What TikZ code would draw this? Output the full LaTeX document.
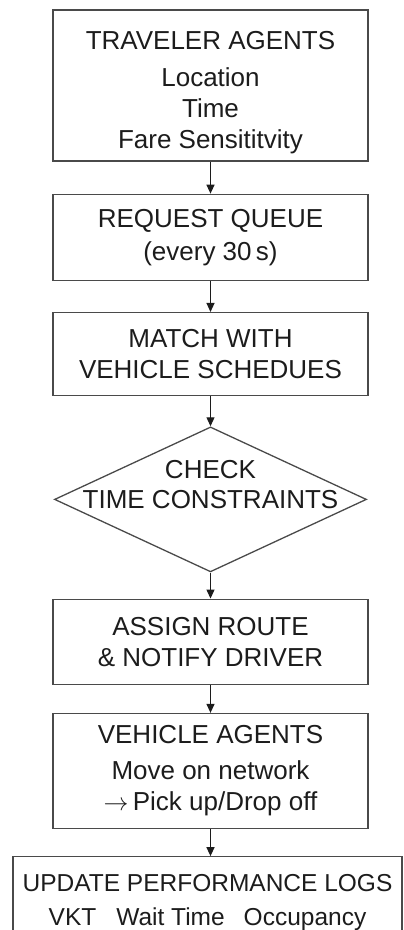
\documentclass[tikz,border=0pt]{standalone}
\usepackage{fontspec}
\setmainfont{Liberation Sans}
\usepackage{tikz}
\usetikzlibrary{positioning,shapes.geometric,arrows.meta}
\definecolor{ink}{HTML}{1C1C1C}
\definecolor{rule}{HTML}{4A4A4A}
\tikzset{
  stage/.style={draw=rule,line width=1.3pt,minimum width=315pt,inner sep=0pt,
    align=center,text=ink,font=\fontsize{26}{31}\selectfont},
  decision/.style={diamond,draw=rule,line width=1.3pt,minimum width=312pt,
    minimum height=145pt,inner sep=0pt},
  flow/.style={draw=ink,line width=1.2pt,-{Triangle[width=8pt,length=9pt]}}
}

\begin{document}
\begin{tikzpicture}
\useasboundingbox (0,0) rectangle (404pt,-930pt);
% stages from top to bottom
\node[stage,minimum height=151pt] (traveler) at (210.5pt,-85.5pt)
  {\rule{0pt}{32pt}TRAVELER AGENTS\\[6pt]Location\\Time\\Fare Sensititvity};
\node[stage,minimum height=86pt,below=32pt of traveler] (queue)
  {REQUEST QUEUE\\[2pt](every 30\,s)};
\node[stage,minimum height=83pt,below=31pt of queue] (match)
  {MATCH WITH\\VEHICLE SCHEDUES};
\node[decision,below=30pt of match] (check) {};
\node[text=ink,align=center,font=\fontsize{26}{30}\selectfont] (checktext)
  at ([yshift=15pt]check.center) {CHECK\\TIME CONSTRAINTS};
\node[stage,minimum height=85pt,below=26pt of check] (assign)
  {ASSIGN ROUTE\\\& NOTIFY DRIVER};
\node[stage,minimum height=115pt,below=28pt of assign] (vehicles)
  {VEHICLE AGENTS\\[5pt]Move on network\\$\rightarrow$\,Pick up/Drop off};
\node[stage,minimum width=389pt,minimum height=92pt,below=27pt of vehicles,xshift=-3pt,
  font=\fontsize{24.5}{31}\selectfont] (logs)
  {UPDATE PERFORMANCE LOGS\\[3pt]VKT\hspace{20pt}Wait Time\hspace{19pt}Occupancy};
% connectors
\draw[flow] (traveler) -- (queue);
\draw[flow] (queue) -- (match);
\draw[flow] (match) -- (check);
\draw[flow] (check) -- (assign);
\draw[flow] (assign) -- (vehicles);
\draw[flow] (vehicles.south) -- (vehicles.south |- logs.north);
\end{tikzpicture}
\end{document}
